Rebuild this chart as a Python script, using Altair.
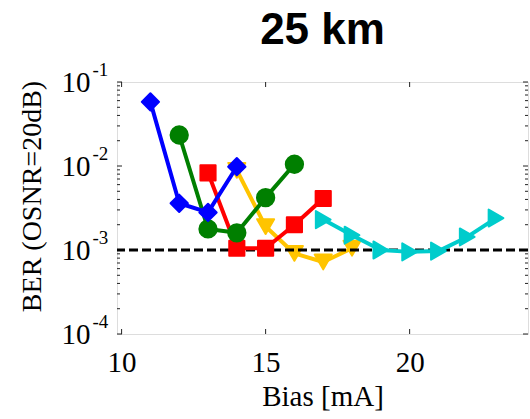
import altair as alt
import pandas as pd

# ---- data ----
blue_x = [11, 12, 13, 14]
blue_y = [0.058, 0.0036, 0.0028, 0.0098]
green_x = [12, 13, 14, 15, 16]
green_y = [0.0234, 0.00178, 0.0016, 0.0042, 0.0105]
red_x = [13, 14, 15, 16, 17]
red_y = [0.0083, 0.00105, 0.00105, 0.0020, 0.0041]
yellow_x = [14, 15, 16, 17, 18]
yellow_y = [0.0089, 0.0019, 0.00091, 0.00072, 0.00105]
cyan_x = [17, 18, 19, 20, 21, 22, 23]
cyan_y = [0.0023, 0.0015, 0.0010, 0.00095, 0.00097, 0.00143, 0.0024]

threshold = [0.001]
y_major = [1e-4, 1e-3, 1e-2, 1e-1]
y_minor = [k * 10.0 ** e for e in (-4, -3, -2) for k in range(2, 10)]
x_major = [10, 15, 20]

W, H = 411, 252
SERIF = "Liberation Serif"

xs = alt.Scale(domain=[9.84, 24.11], nice=False, zero=False)
ys = alt.Scale(type="log", domain=[1e-4, 1e-1], nice=False)

series = {
    "blue": (blue_x, blue_y, "#0000FF", "diamond", 300),
    "green": (green_x, green_y, "#007F00", "circle", 300),
    "red": (red_x, red_y, "#FF0000", "square", 230),
    "yellow": (yellow_x, yellow_y, "#FFC400", "triangle-down", 290),
    "cyan": (cyan_x, cyan_y, "#00CCCC", "triangle-right", 290),
}

def series_layers(name):
    xv, yv, col, shp, sz = series[name]
    df = pd.DataFrame({"bias": xv, "ber": yv})
    base = alt.Chart(df)
    line = base.mark_line(color=col, strokeWidth=4, strokeJoin="round").encode(
        x=alt.X("bias:Q", scale=xs, axis=None),
        y=alt.Y("ber:Q", scale=ys, axis=None),
    )
    pts = base.mark_point(filled=True, color=col, shape=shp, size=sz, opacity=1,
                          stroke=col, strokeWidth=2, strokeJoin="round").encode(
        x=alt.X("bias:Q", scale=xs, axis=None),
        y=alt.Y("ber:Q", scale=ys, axis=None),
    )
    return [line, pts]

thr = alt.Chart(pd.DataFrame({"t": threshold})).mark_rule(
    color="black", strokeWidth=3, strokeDash=[9, 4]
).encode(y=alt.Y("t:Q", scale=ys, axis=None))

# axis label layers
ymaj_df = pd.DataFrame({"v": y_major})
ylab10 = alt.Chart(ymaj_df).mark_rule(strokeOpacity=0).encode(
    y=alt.Y("v:Q", scale=ys, axis=alt.Axis(
        orient="left", values=y_major, labelExpr="'10'", ticks=False, tickSize=0,
        domain=False, grid=False, labelFont=SERIF, labelFontSize=29,
        labelColor="black", labelPadding=27, labelAlign="right", labelBaseline="middle",
        title="BER (OSNR=20dB)", titleFont=SERIF, titleFontSize=28, titleFontWeight="normal",
        titleColor="black", titleAngle=270, titleX=-77, titleY=114,
        titleAlign="center", titleBaseline="alphabetic", labelFlush=False)),
    x=alt.value(0), x2=alt.value(0),
)
ylabexp = alt.Chart(ymaj_df).mark_rule(strokeOpacity=0).encode(
    y=alt.Y("v:Q", scale=ys, axis=alt.Axis(
        orient="left", values=y_major,
        labelExpr="'-' + format(-round(log(datum.value) / LN10), 'd')",
        ticks=False, tickSize=0, domain=False, grid=False, labelFont=SERIF,
        labelFontSize=19, labelColor="black", labelPadding=25, labelAlign="left",
        labelBaseline="middle", labelOffset=-13, title=None, labelFlush=False)),
    x=alt.value(0), x2=alt.value(0),
)

xmaj_df = pd.DataFrame({"v": x_major})
xlab = alt.Chart(xmaj_df).mark_rule(strokeWidth=1, color="#222").encode(
    x=alt.X("v:Q", scale=xs, axis=alt.Axis(
        values=x_major, format="d", ticks=False, tickSize=0, domain=False, grid=False,
        labelFont=SERIF, labelFontSize=29, labelColor="black", labelPadding=14,
        labelFlush=False, title="Bias [mA]", titleFont=SERIF, titleFontSize=29,
        titleFontWeight="normal", titleColor="black", titleY=71,
        titleBaseline="alphabetic")),
    y=alt.value(H), y2=alt.value(H - 5),
)
xtop = alt.Chart(xmaj_df).mark_rule(strokeWidth=1, color="#222").encode(
    x=alt.X("v:Q", scale=xs, axis=None), y=alt.value(0), y2=alt.value(5),
)

ymin_df = pd.DataFrame({"v": y_minor})
def ytick(df, x1, x2):
    return alt.Chart(df).mark_rule(strokeWidth=1, color="#222").encode(
        y=alt.Y("v:Q", scale=ys, axis=None), x=alt.value(x1), x2=alt.value(x2))

ticks = [
    ytick(ymaj_df, 0, 5), ytick(ymaj_df, W, W - 5),
    ytick(ymin_df, 0, 3), ytick(ymin_df, W, W - 3),
    xtop,
]

layers = [ylab10, ylabexp, xlab] + ticks
layers += series_layers("yellow")
layers += [thr]
for s in ["cyan", "red", "green", "blue"]:
    layers += series_layers(s)

chart = alt.layer(*layers).resolve_axis(y="independent", x="independent").properties(
    width=W, height=H,
    title=alt.TitleParams("25 km", font="Liberation Sans", fontSize=44,
                          fontWeight="bold", color="black", anchor="middle",
                          frame="group", offset=7),
    autosize=alt.AutoSizeParams(type="none"),
    padding={"left": 117, "top": 82, "right": 2, "bottom": 85},
).configure_view(stroke="#222", strokeWidth=1).configure(background="white")

chart.save("out.html", embed_options={"renderer": "svg", "actions": False})
